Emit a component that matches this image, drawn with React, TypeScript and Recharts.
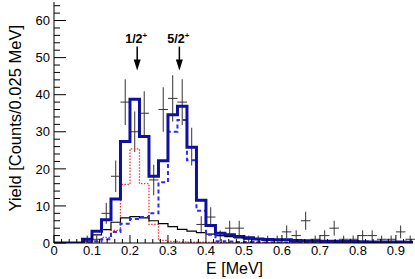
import React from 'react';
import { ComposedChart, Line, Scatter, ErrorBar, XAxis, YAxis, ReferenceDot } from 'recharts';

const FONT = '"Liberation Sans", Arial, Helvetica, sans-serif';

// 38 bins of 0.025 MeV from 0 to 0.95 MeV
const binWidth = 0.025;

const measured = [0, 0, 0, 1, 1, 8, 18, 38, 30, 35, 17, 36, 39, 38, 26, 5, 7, 2, 4, 4, 1, 1, 1, 1, 3, 2, 6, 1, 2, 4, 1, 1, 2, 2, 1, 1, 3, 1];

const totalFit = [0, 0, 0, 1.0, 3.2, 6.3, 11.9, 27.4, 38.8, 28.7, 18, 22.2, 34.6, 36.9, 25.8, 11.5, 4.7, 2.6, 2.2, 1.75, 1.4, 1.1, 0.95, 0.9, 0.85, 0.65, 0.6, 0.55, 0.5, 0.45, 0.4, 0.4, 0.35, 0.3, 0.3, 0.25, 0.25, 0.2];

const fitOneHalf = [0, 0, 0, 0.2, 0.3, 1.5, 3.4, 15.8, 25.4, 16.0, 5.0, 0.7, 0.4, 0.3, 0.2, 0.2, 0.15, 0.1, 0.1, 0.1, 0.1, 0.1, 0.1, 0.1, 0.1, 0.1, 0.1, 0.1, 0.1, 0.1, 0.1, 0.1, 0.1, 0.1, 0.1, 0.1, 0.1, 0.1];

const fitFiveHalf = [0, 0, 0, 0.3, 0.5, 1.0, 3.0, 5.2, 6.5, 7.0, 8.0, 16.4, 30.0, 33.2, 22.3, 8.7, 2.2, 0.5, 0.4, 0.3, 0.25, 0.2, 0.15, 0.15, 0.15, 0.1, 0.1, 0.1, 0.1, 0.1, 0.1, 0.1, 0.1, 0.1, 0.1, 0.1, 0.1, 0.1];

const fitBackground = [0, 0, 0, 0.5, 2.2, 3.6, 5.6, 6.8, 7.1, 6.8, 6.0, 5.2, 4.4, 3.7, 3.2, 2.8, 2.4, 2.0, 1.7, 1.4, 1.2, 1.0, 0.9, 0.8, 0.7, 0.6, 0.55, 0.5, 0.45, 0.4, 0.35, 0.3, 0.3, 0.25, 0.25, 0.2, 0.2, 0.2];

const xTickLabels = ['0', '0.1', '0.2', '0.3', '0.4', '0.5', '0.6', '0.7', '0.8', '0.9'];
const yTickLabels = ['0', '10', '20', '30', '40', '50', '60'];

const resonances = [
  { e: 0.219, tip: 46.5, label: '1/2' },
  { e: 0.33, tip: 46.5, label: '5/2' },
];

// minor ticks every 0.02 MeV / 2 counts
const xTicks = Array.from({ length: 48 }, (_, i) => +(i * 0.02).toFixed(2));
const yTicks = Array.from({ length: 33 }, (_, i) => i * 2);

const toSteps = (vals: number[]) => [
  ...vals.map((v, i) => ({ x: i * binWidth, v })),
  { x: vals.length * binWidth, v: vals[vals.length - 1] },
];

const points = measured
  .map((n, i) => ({ x: (i + 0.5) * binWidth, y: n, ex: binWidth / 2, ey: Math.sqrt(n) }))
  .filter((p) => p.y > 0);

const xMajor = (v: number) => Math.round(v * 100) % 10 === 0;
const yMajor = (v: number) => v % 10 === 0;

const BottomTick = (p: any) => {
  const v = p.payload.value;
  const major = xMajor(v);
  return (
    <g>
      <line x1={p.x} y1={p.y} x2={p.x} y2={p.y - (major ? 8 : 4)} stroke="#000" />
      {major && (
        <text x={p.x} y={p.y + 12} textAnchor="middle" fontSize={13} fontFamily={FONT} fill="#000">
          {xTickLabels[Math.round(v * 10)]}
        </text>
      )}
    </g>
  );
};

const TopTick = (p: any) => {
  const major = xMajor(p.payload.value);
  return <line x1={p.x} y1={p.y} x2={p.x} y2={p.y + (major ? 8 : 4)} stroke="#000" />;
};

const LeftTick = (p: any) => {
  const v = p.payload.value;
  const major = yMajor(v);
  return (
    <g>
      <line x1={p.x} y1={p.y} x2={p.x + (major ? 12 : 6)} y2={p.y} stroke="#000" />
      {major && (
        <text x={p.x - 4} y={p.y} dy="0.36em" textAnchor="end" fontSize={13} fontFamily={FONT} fill="#000">
          {yTickLabels[v / 10]}
        </text>
      )}
    </g>
  );
};

const RightTick = (p: any) => {
  const major = yMajor(p.payload.value);
  return <line x1={p.x} y1={p.y} x2={p.x - (major ? 12 : 6)} y2={p.y} stroke="#000" />;
};

const arrowShape = (label: string) => (p: any) => {
  const { cx, cy } = p;
  return (
    <g>
      <line x1={cx} y1={cy - 24} x2={cx} y2={cy - 9} stroke="#000" strokeWidth={1.5} />
      <polygon points={`${cx - 3.5},${cy - 11} ${cx + 3.5},${cy - 11} ${cx},${cy}`} fill="#000" />
      <text x={cx - 12} y={cy - 28} fontSize={12.5} fontWeight="bold" fontFamily={FONT} fill="#000">
        {label}
        <tspan dy={-5} fontSize={8}>+</tspan>
      </text>
    </g>
  );
};

export default function App() {
  return (
    <div style={{ position: 'absolute', left: 0, top: 0, width: 415, height: 279, background: '#fff' }}>
      <ComposedChart width={415} height={279} margin={{ top: 2, right: 2, bottom: 0, left: 0 }}>
        <XAxis
          dataKey="x"
          type="number"
          domain={[0, 0.945]}
          allowDataOverflow
          ticks={xTicks}
          interval={0}
          tickSize={0}
          tickMargin={0}
          tickLine={false}
          tick={(p: any) => <BottomTick {...p} />}
          height={36}
          axisLine={{ stroke: '#000' }}
        />
        <XAxis
          xAxisId="top"
          orientation="top"
          dataKey="x"
          type="number"
          domain={[0, 0.945]}
          allowDataOverflow
          ticks={xTicks}
          interval={0}
          tickSize={0}
          tickMargin={0}
          tickLine={false}
          tick={(p: any) => <TopTick {...p} />}
          height={0}
          axisLine={{ stroke: '#000' }}
        />
        <YAxis
          type="number"
          domain={[0, 65]}
          allowDataOverflow
          ticks={yTicks}
          interval={0}
          tickSize={0}
          tickMargin={0}
          tickLine={false}
          tick={(p: any) => <LeftTick {...p} />}
          width={54}
          axisLine={{ stroke: '#000' }}
        />
        <YAxis
          yAxisId="right"
          orientation="right"
          type="number"
          domain={[0, 65]}
          allowDataOverflow
          ticks={yTicks}
          interval={0}
          tickSize={0}
          tickMargin={0}
          tickLine={false}
          tick={(p: any) => <RightTick {...p} />}
          width={0}
          axisLine={{ stroke: '#000' }}
        />
        <Scatter data={points} dataKey="y" shape={() => <g />} isAnimationActive={false}>
          <ErrorBar dataKey="ey" direction="y" width={0} stroke="#333" strokeWidth={1} />
          <ErrorBar dataKey="ex" direction="x" width={0} stroke="#333" strokeWidth={1} />
        </Scatter>
        <Line data={toSteps(fitOneHalf)} dataKey="v" type="stepAfter" stroke="#ff3030" strokeWidth={1.3} strokeDasharray="1.5 1.5" dot={false} isAnimationActive={false} />
        <Line data={toSteps(fitBackground)} dataKey="v" type="stepAfter" stroke="#000" strokeWidth={1.2} dot={false} isAnimationActive={false} />
        <Line data={toSteps(fitFiveHalf)} dataKey="v" type="stepAfter" stroke="#2a2aff" strokeWidth={2} strokeDasharray="4 3" dot={false} isAnimationActive={false} />
        <Line data={toSteps(totalFit)} dataKey="v" type="stepAfter" stroke="#1010a0" strokeWidth={3} strokeLinejoin="miter" dot={false} isAnimationActive={false} />
        {resonances.map((r) => (
          <ReferenceDot key={r.label} x={r.e} y={r.tip} shape={arrowShape(r.label)} />
        ))}
      </ComposedChart>
      <svg width={415} height={279} style={{ position: 'absolute', left: 0, top: 0, pointerEvents: 'none' }}>
        <text x={263} y={274} textAnchor="end" fontSize={16} fontFamily={FONT} fill="#000">
          E [MeV]
        </text>
        <text transform="translate(21,25) rotate(-90)" textAnchor="end" fontSize={16.5} fontFamily={FONT} fill="#000">
          Yield [Counts/0.025 MeV]
        </text>
      </svg>
    </div>
  );
}
